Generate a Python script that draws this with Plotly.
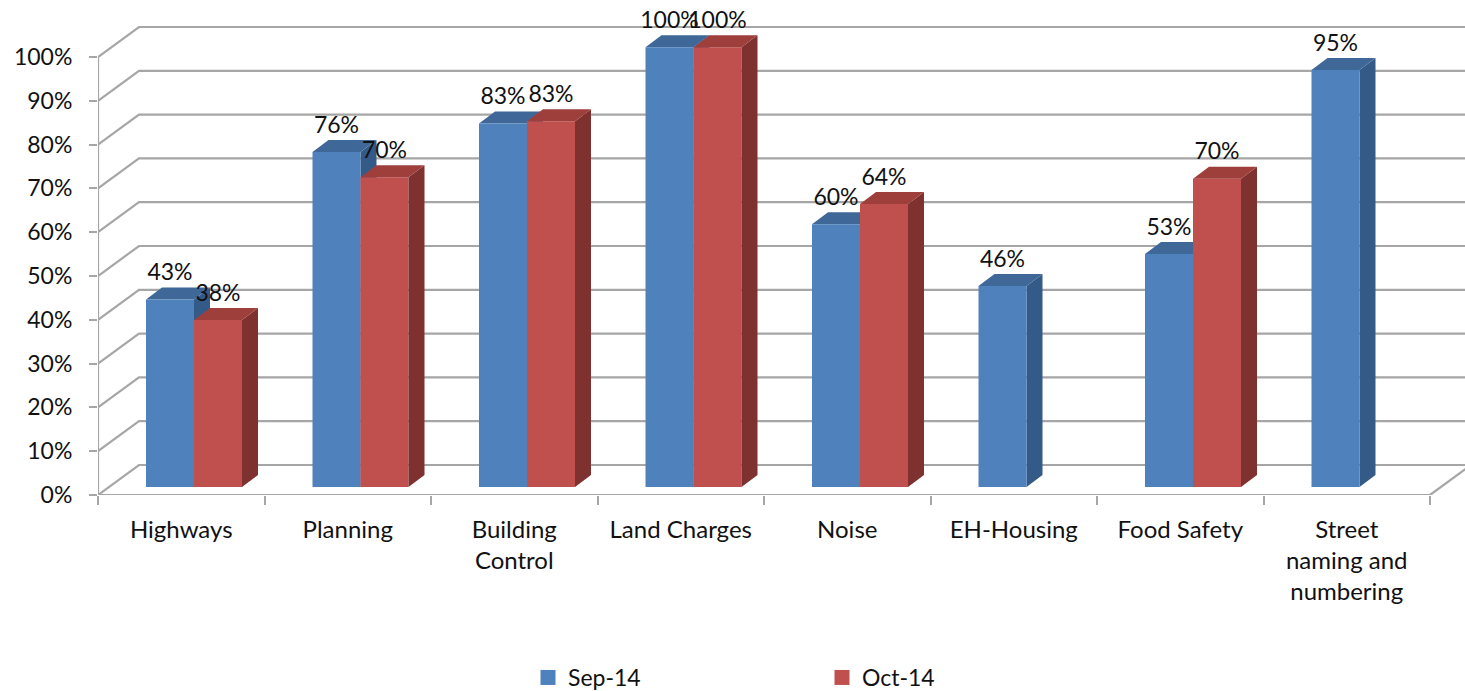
import plotly.graph_objects as go

categories = ["Highways", "Planning", "Building<br>Control", "Land Charges", "Noise",
              "EH-Housing", "Food Safety", "Street<br>naming and<br>numbering"]
sep_14 = [42.8, 76.5, 83.0, 100.4, 60.0, 45.9, 53.2, 95.2]
oct_14 = [38.1, 70.7, 83.5, 100.4, 64.6, None, 70.4, None]
sep_labels = ["43%", "76%", "83%", "100%", "60%", "46%", "53%", "95%"]
oct_labels = ["38%", "70%", "83%", "100%", "64%", None, "70%", None]
y_ticks = [0, 10, 20, 30, 40, 50, 60, 70, 80, 90, 100]

PX_X = 166.5      # pixels per category
PX_Y = 4.38       # pixels per percentage point
W, H = 1465, 691
LEFT, ZERO_Y = 98, 495
BACK_DX, BACK_DY = 41 / PX_X, 30 / PX_Y
BAR_BASE = 8 / PX_Y
DEPTH_X, DEPTH_Y = 16 / PX_X, 12 / PX_Y
BAR_W = 48 / PX_X
OFF_BLUE, OFF_RED = 72 / PX_X, 120 / PX_X
GREY = "#a6a6a6"
FONT = "Lato"
TXT = 23
LABEL_UP = 25 / PX_Y

BLUE, BLUE_TOP, BLUE_SIDE = "#4f81bd", "#3f6797", "#345a88"
RED, RED_TOP, RED_SIDE = "#c0504d", "#9e3f3c", "#7f312f"


def faces(i, off, v):
    """Top and side polygons of one column, in axis units."""
    x0 = i + off - BAR_W / 2
    x1 = i + off + BAR_W / 2
    t = BAR_BASE + v
    top = [(x0, t), (x1, t), (x1 + DEPTH_X, t + DEPTH_Y), (x0 + DEPTH_X, t + DEPTH_Y)]
    side = [(x1, BAR_BASE), (x1 + DEPTH_X, BAR_BASE + DEPTH_Y),
            (x1 + DEPTH_X, t + DEPTH_Y), (x1, t)]
    return top, side


def path(pts, close=True):
    s = "M" + " L".join(f"{x:.4f},{y:.4f}" for x, y in pts)
    return s + (" Z" if close else "")


x_right = (W - LEFT) / PX_X
n = len(categories)
shapes = []

# Back wall and side wall gridlines
for v in y_ticks:
    shapes.append(dict(type="path", layer="below", xref="x", yref="y", line=dict(color=GREY, width=2.2),
                       path=path([(0, v), (BACK_DX, v + BACK_DY), (x_right, v + BACK_DY)], False)))
# Front axis lines and the floor edge
shapes.append(dict(type="path", layer="below", xref="x", yref="y", line=dict(color=GREY, width=2.2),
                   path=path([(0, y_ticks[-1]), (0, 0), (n, 0), (n + BACK_DX, BACK_DY)], False)))

# Blue depth faces sit below the bar layer, so red fronts hide them
for i, v in enumerate(sep_14):
    top, side = faces(i, OFF_BLUE, v)
    shapes.append(dict(type="path", layer="below", xref="x", yref="y", line=dict(width=0),
                       fillcolor=BLUE_SIDE, path=path(side)))
    shapes.append(dict(type="path", layer="below", xref="x", yref="y", line=dict(width=0),
                       fillcolor=BLUE_TOP, path=path(top)))

fig = go.Figure()

fig.add_bar(x=[i + OFF_BLUE for i in range(n)], y=sep_14, base=BAR_BASE, width=BAR_W,
            marker=dict(color=BLUE, line=dict(width=0)), showlegend=False, hoverinfo="skip")
fig.add_bar(x=[i + OFF_RED for i in range(n)], y=oct_14, base=BAR_BASE, width=BAR_W,
            marker=dict(color=RED, line=dict(width=0)), showlegend=False, hoverinfo="skip")

# Red depth faces
tops_x, tops_y, sides_x, sides_y = [], [], [], []
for i, v in enumerate(oct_14):
    if v is None:
        continue
    top, side = faces(i, OFF_RED, v)
    for p in top + [top[0], (None, None)]:
        tops_x.append(p[0]); tops_y.append(p[1])
    for p in side + [side[0], (None, None)]:
        sides_x.append(p[0]); sides_y.append(p[1])
for xs, ys, c in [(sides_x, sides_y, RED_SIDE), (tops_x, tops_y, RED_TOP)]:
    fig.add_scatter(x=xs, y=ys, mode="lines", fill="toself", fillcolor=c, line=dict(width=0),
                    showlegend=False, hoverinfo="skip")

# Data labels
for off, vals, labels in [(OFF_BLUE, sep_14, sep_labels), (OFF_RED, oct_14, oct_labels)]:
    idx = [i for i, v in enumerate(vals) if v is not None]
    fig.add_scatter(x=[i + off for i in idx], y=[BAR_BASE + vals[i] + LABEL_UP for i in idx],
                    text=[labels[i] for i in idx], mode="text", textposition="middle center",
                    textfont=dict(family=FONT, size=TXT, color="#111111"), cliponaxis=False,
                    showlegend=False, hoverinfo="skip")

# Legend entries
for name, c in [("Sep-14", BLUE), ("Oct-14", RED)]:
    fig.add_scatter(x=[None], y=[None], mode="markers", name=name,
                    marker=dict(symbol="square", size=15, color=c))

fig.update_layout(
    width=W, height=H, barmode="overlay", paper_bgcolor="white", plot_bgcolor="white",
    margin=dict(l=LEFT, r=0, t=0, b=H - ZERO_Y, autoexpand=False, pad=0),
    font=dict(family=FONT, size=TXT, color="#111111"),
    shapes=shapes,
    xaxis=dict(range=[0, x_right], tickmode="array", tickvals=[i + 0.5 for i in range(n)],
               ticktext=categories, ticks="", showgrid=False, zeroline=False, showline=False,
               ticklabelstandoff=18, tickangle=0, tickfont=dict(family=FONT, size=24, color="#111111"),
               minor=dict(tickmode="array", tickvals=list(range(n + 1)), ticks="outside", ticklen=9,
                          tickwidth=2, tickcolor=GREY, showgrid=False)),
    yaxis=dict(range=[0, ZERO_Y / PX_Y], tickmode="array", tickvals=y_ticks,
               ticktext=[f"{v}%" for v in y_ticks], ticks="outside", ticklen=8, tickwidth=2,
               tickcolor=GREY, showgrid=False, zeroline=False, showline=False, ticklabelstandoff=12),
    legend=dict(orientation="h", x=(528 - LEFT) / (W - LEFT), xanchor="left",
                y=-(656 - ZERO_Y) / ZERO_Y, yanchor="top", entrywidth=249, entrywidthmode="pixels",
                itemwidth=30, bgcolor="rgba(0,0,0,0)", font=dict(family=FONT, size=23, color="#111111")),
)

fig.write_html("out.html", config=dict(displayModeBar=False),
               post_script="document.body.style.margin='0';document.body.style.overflow='hidden';")
